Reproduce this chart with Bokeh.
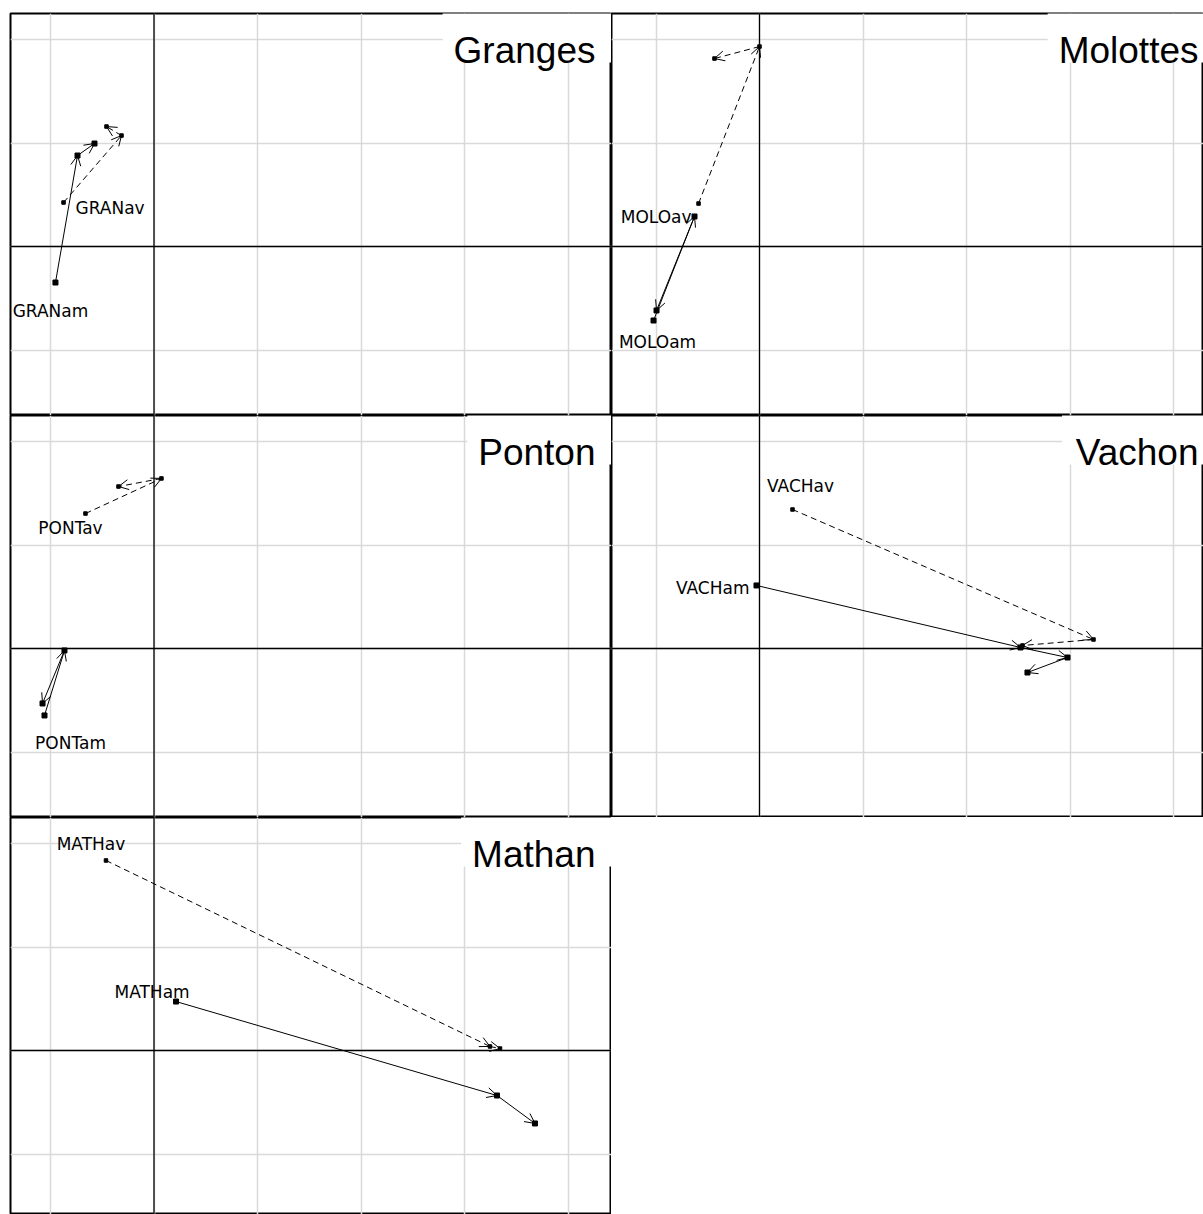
from bokeh.plotting import figure
from bokeh.layouts import gridplot
from bokeh.models import Grid, FixedTicker, Span, Arrow, OpenHead, ColumnDataSource, Label, Range1d
from bokeh.embed import file_html
from bokeh.resources import INLINE
from bokeh.core.properties import value

# ---------------- data ----------------
site_names = ["Granges", "Molottes", "Ponton", "Vachon", "Mathan"]
am_labels = ["GRANam", "MOLOam", "PONTam", "VACHam", "MATHam"]
av_labels = ["GRANav", "MOLOav", "PONTav", "VACHav", "MATHav"]

granges_am_x = [-0.952, -0.739, -0.575]
granges_am_y = [-0.348, 0.879, 0.995]
granges_av_x = [-0.874, -0.314, -0.459]
granges_av_y = [0.425, 1.072, 1.159]

molottes_am_x = [-1.024, -0.628, -0.995]
molottes_am_y = [-0.715, 0.290, -0.618]
molottes_av_x = [-0.589, 0.000, -0.435]
molottes_av_y = [0.415, 1.932, 1.816]

ponton_am_x = [-1.058, -0.865, -1.077]
ponton_am_y = [-0.647, -0.019, -0.531]
ponton_av_x = [-0.662, 0.072, -0.343]
ponton_av_y = [1.304, 1.643, 1.565]

vachon_am_x = [-0.029, 2.522, 2.976, 2.589]
vachon_am_y = [0.609, 0.010, -0.087, -0.232]
vachon_av_x = [0.319, 3.227, 2.541]
vachon_av_y = [1.343, 0.087, 0.029]

mathan_am_x = [0.213, 3.314, 3.681]
mathan_am_y = [0.473, -0.435, -0.705]
mathan_av_x = [-0.464, 3.246, 3.343]
mathan_av_y = [1.836, 0.039, 0.019]

grid_ticks_x = [-1, 0, 1, 2, 3, 4]
grid_ticks_y = [-1, 0, 1, 2]

series_am_x = [granges_am_x, molottes_am_x, ponton_am_x, vachon_am_x, mathan_am_x]
series_am_y = [granges_am_y, molottes_am_y, ponton_am_y, vachon_am_y, mathan_am_y]
series_av_x = [granges_av_x, molottes_av_x, ponton_av_x, vachon_av_x, mathan_av_x]
series_av_y = [granges_av_y, molottes_av_y, ponton_av_y, vachon_av_y, mathan_av_y]

# ---------------- layout / style ----------------
PX = 103.5  # pixels per data unit
col_frame_w = [601, 592]
col_x_start = [(10 - 153.5) / PX, (611 - 759) / PX]
col_border_left = [10, 0]
col_title_pad = [16, 5]   # right-side gap of the title (second column is cut by the window)
row_frame_h = [402, 402, 397]
row_border_top = [13, 0, 0]
Y_END = 233 / PX

# label offsets in screen pixels from the first point: (dx, dy, align)
am_label_style = [(-5, 28, "center"), (4, 21, "center"), (26, 28, "center"),
                  (-7, 3, "right"), (-24, -10, "center")]
av_label_style = [(12, 5, "left"), (-7, 13, "right"), (-15, 14, "center"),
                  (8, -23, "center"), (-15, -16, "center")]

# Arial advance widths (per 1000 em) for title box sizing
ARIAL_W = {"G": 778, "r": 333, "a": 556, "n": 556, "g": 556, "e": 556, "s": 500,
           "M": 833, "o": 556, "l": 222, "t": 278, "P": 667, "V": 667, "c": 500,
           "h": 556}
TITLE_PX = 37


def title_width(s):
    return sum(ARIAL_W.get(ch, 556) for ch in s) * TITLE_PX / 1000.0


def make_panel(i, row, col):
    fw, fh = col_frame_w[col], row_frame_h[row]
    x0 = col_x_start[col]
    x1 = x0 + fw / PX
    y1 = Y_END
    y0 = y1 - fh / PX
    p = figure(width=fw + col_border_left[col], height=fh + row_border_top[row],
               x_range=Range1d(x0, x1), y_range=Range1d(y0, y1),
               x_axis_type=None, y_axis_type=None,
               toolbar_location=None, output_backend="svg",
               min_border=0, min_border_left=col_border_left[col],
               min_border_top=row_border_top[row], min_border_right=0,
               min_border_bottom=0,
               background_fill_color="white", border_fill_color="white",
               outline_line_color="black", outline_line_width=2)
    p.add_layout(Grid(dimension=0, ticker=FixedTicker(ticks=grid_ticks_x),
                      grid_line_color="#d9d9d9", grid_line_width=1.5))
    p.add_layout(Grid(dimension=1, ticker=FixedTicker(ticks=grid_ticks_y),
                      grid_line_color="#d9d9d9", grid_line_width=1.5))
    p.add_layout(Span(location=0, dimension="height", line_color="black", line_width=1.3))
    p.add_layout(Span(location=0, dimension="width", line_color="black", line_width=1.3))

    # title box + title
    name = site_names[i]
    pad = col_title_pad[col]
    bw = title_width(name) + 11 + pad
    p.quad(left=[x1 - bw / PX], right=[x1 + 0.2], bottom=[y1 - 49 / PX], top=[y1 + 0.2],
           fill_color="white", line_color=None)
    p.add_layout(Label(x=x1 - pad / PX, y=y1 - 37 / PX, text=name, text_align="right",
                       text_baseline="alphabetic", text_font="Liberation Sans",
                       text_font_size=f"{TITLE_PX}px", text_color="black"))

    for xs, ys, lab, sty, dash, msize in (
            (series_am_x[i], series_am_y[i], am_labels[i], am_label_style[i], "solid", 5),
            (series_av_x[i], series_av_y[i], av_labels[i], av_label_style[i], "6 4", 3.5)):
        src = ColumnDataSource(dict(x0=xs[:-1], y0=ys[:-1], x1=xs[1:], y1=ys[1:]))
        p.add_layout(Arrow(end=OpenHead(size=10, line_width=1, line_color="black"),
                           source=src, x_start="x0", y_start="y0", x_end="x1", y_end="y1",
                           line_color="black", line_width=1, line_dash=dash))
        p.scatter(x=xs, y=ys, marker="square", size=msize, color="black")
        dx, dy, al = sty
        p.text(x=[xs[0]], y=[ys[0]], text=[lab], x_offset=dx, y_offset=dy,
               text_align=al, text_baseline="middle",
               text_font=value("DejaVu Sans"), text_font_size="17px", text_color="black")
    return p


positions = [(0, 0), (0, 1), (1, 0), (1, 1), (2, 0)]
panels = [make_panel(i, r, c) for i, (r, c) in enumerate(positions)]

grid = gridplot([[panels[0], panels[1]], [panels[2], panels[3]], [panels[4], None]],
                toolbar_location=None)

open("out.html", "w").write(file_html(grid, INLINE))
